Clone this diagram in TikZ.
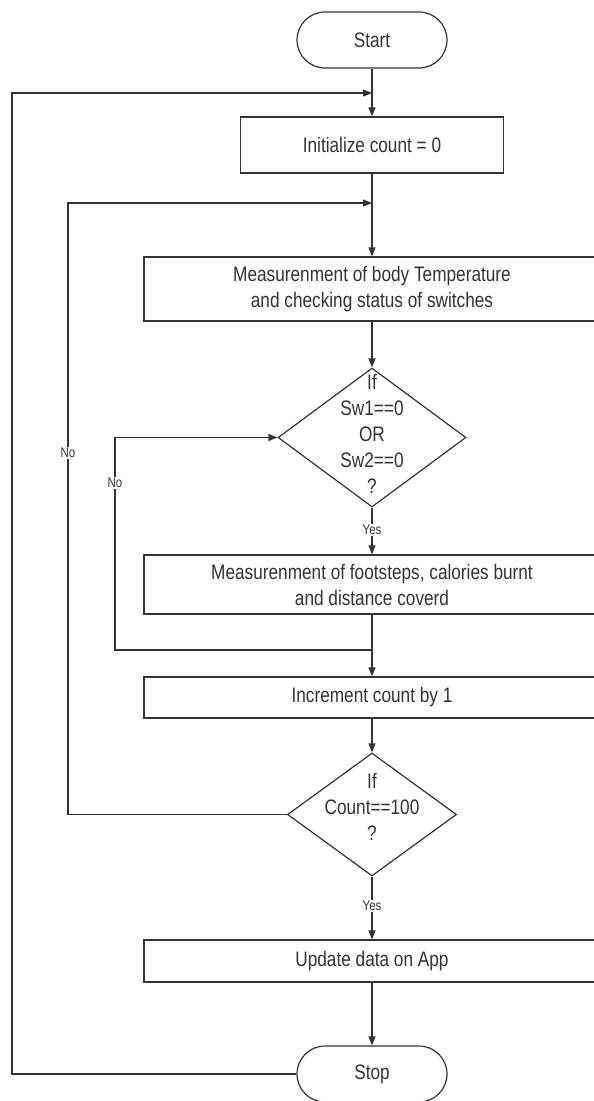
\documentclass[tikz,border=0pt]{standalone}
\usepackage{fontspec}
\setmainfont{Liberation Sans}[FakeStretch=0.82]
\usetikzlibrary{arrows.meta,shapes.geometric}

\definecolor{ink}{HTML}{333333}
\tikzset{
  proc/.style={draw=black!80,line width=1.2pt,text=ink,minimum width=456pt,minimum height=#1,inner sep=0pt,align=center,font=\fontsize{21}{26}\selectfont},
  term/.style={draw=black!80,line width=1.2pt,text=ink,minimum width=150pt,minimum height=56pt,rounded corners=28pt,inner sep=0pt,font=\fontsize{21}{26}\selectfont},
  decide/.style={draw=black!80,line width=1.2pt,diamond,inner sep=0pt,minimum width=#1},
  dtext/.style={text=ink,align=center,inner sep=0pt,font=\fontsize{21}{26}\selectfont},
  lbl/.style={fill=white,text=ink,inner sep=1pt,font=\fontsize{14}{16}\selectfont},
  flow/.style={draw=black!80,line width=1.2pt,-{Triangle[length=9pt,width=7pt]}},
}

\begin{document}
\begin{tikzpicture}[x=1pt,y=-1pt]
\useasboundingbox (0,0) rectangle (594,1101);
% main column
\node[term] (start) at (372,40) {Start};
\node[proc=56pt,minimum width=263pt] (init) at (372,145) {Initialize count = 0};
\node[proc=64pt] (meas) at (372,289) {Measurenment of body Temperature\\and checking status of switches};
\node[decide=188pt,minimum height=139pt] (d1) at (372,437.5) {};
\node[dtext] (d1t) at (372,434) {If\\Sw1==0\\OR\\Sw2==0\\?};
\node[proc=59pt] (steps) at (372,584.5) {Measurenment of footsteps, calories burnt\\and distance coverd};
\node[proc=41pt] (incr) at (372,697.5) {Increment count by 1};
\node[decide=169pt,minimum height=123pt] (d2) at (372,814.5) {};
\node[dtext] (d2t) at (372,807) {If\\Count==100\\?};
\node[proc=42pt] (upd) at (372,961) {Update data on App};
\node[term] (stop) at (372,1074) {Stop};

% corners of the loops
\coordinate (j1) at (372,93);
\coordinate (c1) at (12,93);
\coordinate (j2) at (372,203);
\coordinate (c2) at (68,203);
\coordinate (j3) at (372,650);
\coordinate (c3) at (115,437.5);

\draw[flow] (start) -- (init);
\draw[flow] (init) -- (meas);
\draw[flow] (meas) -- (d1);
\draw[flow] (d1) -- (steps);
\draw[flow] (steps) -- (incr);
\draw[flow] (incr) -- (d2);
\draw[flow] (d2) -- (upd);
\draw[flow] (upd) -- (stop);

\draw[flow] (stop.west) -| (c1) -- (j1);
\draw[flow] (d2.west) -| (c2) -- (j2);
\draw[flow] (j3) -| (c3) -- (d1.west);

\node[lbl] (no1) at (68,453) {No};
\node[lbl] (no2) at (115,483) {No};
\node[lbl] (yes1) at (372,530) {Yes};
\node[lbl] (yes2) at (372,906) {Yes};
\end{tikzpicture}
\end{document}
